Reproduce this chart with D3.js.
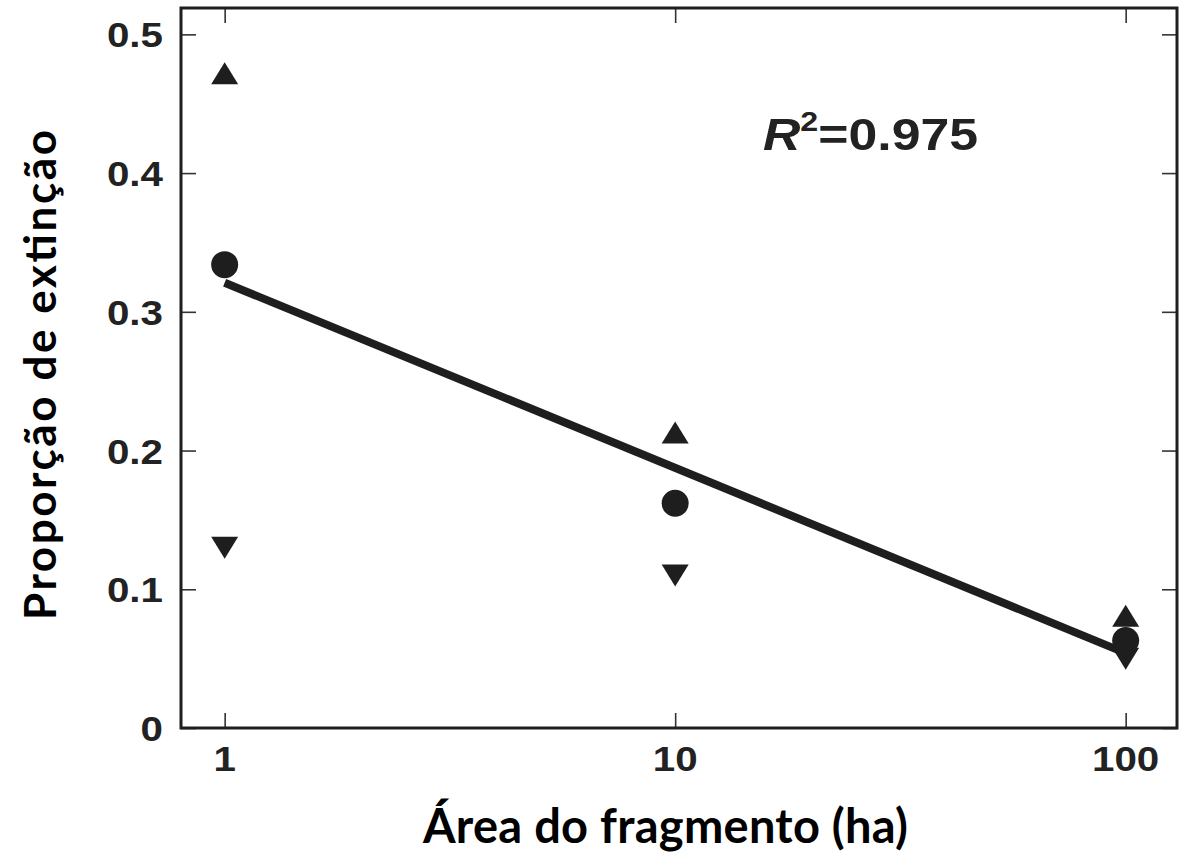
<!DOCTYPE html>
<html>
<head>
<meta charset="utf-8">
<script src="https://cdn.jsdelivr.net/npm/d3@7"></script>
<style>
  html, body { margin: 0; padding: 0; background: #fff; }
  svg { display: block; }
</style>
</head>
<body>
<svg id="chart" width="1189" height="856"></svg>
<script>
// ---- data ----
const areas = [1, 10, 100];
const meanValues = [0.334, 0.162, 0.063];     // circles
const upperValues = [0.472, 0.213, 0.081];    // up triangles
const lowerValues = [0.130, 0.110, 0.050];    // down triangles
const fitLine = [[1, 0.321], [100, 0.054]];   // regression line endpoints
const xTickValues = [1, 10, 100];
const xTickLabels = ["1", "10", "100"];
const yTickValues = [0, 0.1, 0.2, 0.3, 0.4, 0.5];
const yTickLabels = ["0", "0.1", "0.2", "0.3", "0.4", "0.5"];
const xTitle = "Área do fragmento (ha)";
const yTitle = "Proporção de extinção";
const r2Label = "0.975";

// ---- layout ----
const svg = d3.select("#chart");
const L = 181, R = 1177, T = 8, B = 728;
const ink = "#1e1e1e";

const x = d3.scaleLog().domain([0.8, 130]).range([L, R]);
const y = d3.scaleLinear().domain([0, 0.519]).range([B, T]);

// ticks (inward, all four sides)
const tickLen = 15;
const g = svg.append("g");
g.append("g").attr("transform", `translate(0,${B})`)
  .call(d3.axisBottom(x).tickValues(xTickValues).tickSize(-tickLen).tickFormat(() => ""))
  .call(a => a.select(".domain").remove());
g.append("g").attr("transform", `translate(0,${T})`)
  .call(d3.axisTop(x).tickValues(xTickValues).tickSize(-tickLen).tickFormat(() => ""))
  .call(a => a.select(".domain").remove());
g.append("g").attr("transform", `translate(${L},0)`)
  .call(d3.axisLeft(y).tickValues(yTickValues).tickSize(-tickLen).tickFormat(() => ""))
  .call(a => a.select(".domain").remove());
g.append("g").attr("transform", `translate(${R},0)`)
  .call(d3.axisRight(y).tickValues(yTickValues).tickSize(-tickLen).tickFormat(() => ""))
  .call(a => a.select(".domain").remove());
g.selectAll(".tick line").attr("stroke", "#333").attr("stroke-width", 1.6);

// frame
svg.append("rect").attr("x", L).attr("y", T).attr("width", R - L).attr("height", B - T)
  .attr("fill", "none").attr("stroke", ink).attr("stroke-width", 3);

// tick labels (Helvetica-like bold, slightly widened)
const tickFont = "'Liberation Sans', Arial, sans-serif";
const sx = 1.12;
svg.append("g").selectAll("text").data(yTickValues).join("text")
  .attr("transform", d => `translate(${L - 18},${y(d) + 13}) scale(${sx},1)`)
  .attr("text-anchor", "end").attr("font-family", tickFont).attr("font-weight", "bold")
  .attr("font-size", 36).attr("fill", "#222")
  .text((d, i) => yTickLabels[i]);
svg.append("g").selectAll("text").data(xTickValues).join("text")
  .attr("transform", d => `translate(${x(d)},771) scale(${sx},1)`)
  .attr("text-anchor", "middle").attr("font-family", tickFont).attr("font-weight", "bold")
  .attr("font-size", 36).attr("fill", "#222")
  .text((d, i) => xTickLabels[i]);

// regression line
svg.append("path").datum(fitLine)
  .attr("d", d3.line().x(d => x(d[0])).y(d => y(d[1])))
  .attr("fill", "none").attr("stroke", ink).attr("stroke-width", 8);

// markers
const tw = 27, th = 22;
const triUp = (cx, cy) => `M${cx - tw/2},${cy + th/2}L${cx + tw/2},${cy + th/2}L${cx},${cy - th/2}Z`;
const triDown = (cx, cy) => `M${cx - tw/2},${cy - th/2}L${cx + tw/2},${cy - th/2}L${cx},${cy + th/2}Z`;

svg.append("g").selectAll("path").data(areas).join("path")
  .attr("d", (d, i) => triUp(x(d), y(upperValues[i]))).attr("fill", ink);
svg.append("g").selectAll("path").data(areas).join("path")
  .attr("d", (d, i) => triDown(x(d), y(lowerValues[i]))).attr("fill", ink);
svg.append("g").selectAll("circle").data(areas).join("circle")
  .attr("cx", d => x(d)).attr("cy", (d, i) => y(meanValues[i])).attr("r", 13.5).attr("fill", ink);

// R^2 annotation
const ann = svg.append("text").attr("transform", "translate(763,150) scale(1.15,1)")
  .attr("font-family", tickFont).attr("font-weight", "bold").attr("font-size", 45).attr("fill", "#222");
ann.append("tspan").attr("font-style", "italic").text("R");
ann.append("tspan").attr("font-size", 28).attr("dy", -19).text("2");
ann.append("tspan").attr("dy", 19).text("=" + r2Label);

// axis titles
const titleFont = "Lato, 'Open Sans', sans-serif";
svg.append("text").attr("x", 423).attr("y", 843)
  .attr("textLength", 485)
  .attr("font-family", titleFont).attr("font-weight", "bold").attr("font-size", 47).attr("fill", "#000")
  .text(xTitle);
svg.append("text").attr("transform", "translate(56,620) rotate(-90)")
  .attr("textLength", 490)
  .attr("font-family", titleFont).attr("font-weight", "bold").attr("font-size", 44).attr("fill", "#000")
  .text(yTitle);
</script>
</body>
</html>
